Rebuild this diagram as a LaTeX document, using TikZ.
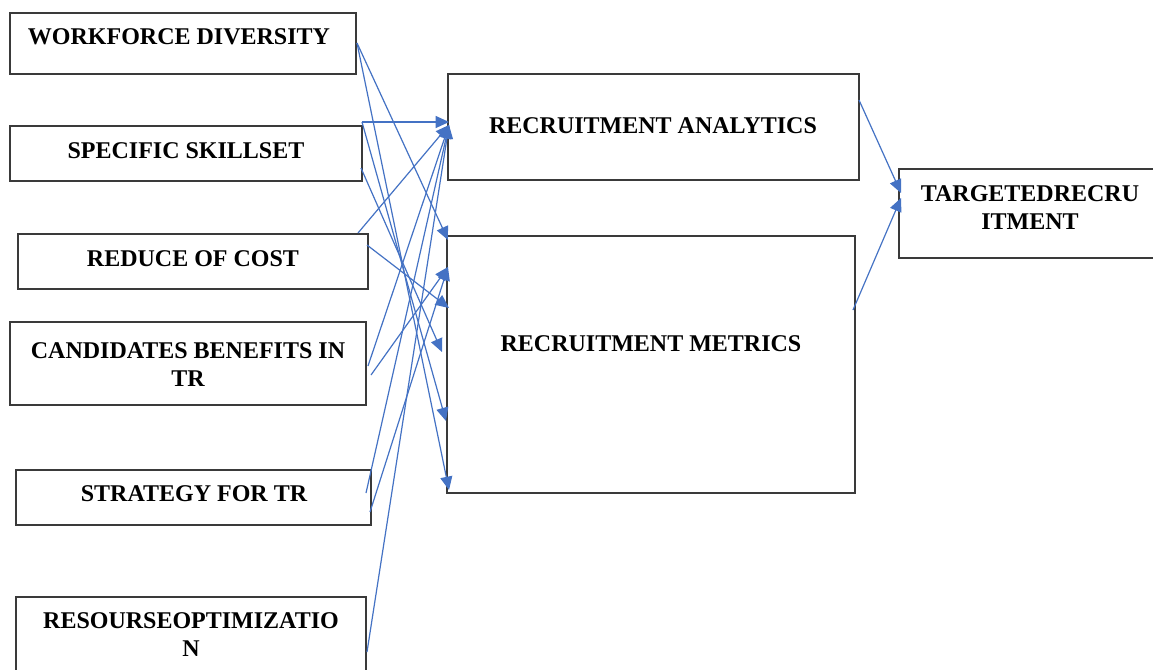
\documentclass[tikz,border=0pt]{standalone}
\usepackage{fontspec}
\setmainfont{Liberation Serif}
\usetikzlibrary{fit,arrows.meta}
\definecolor{lineblue}{HTML}{4472C4}
\definecolor{boxgray}{HTML}{3A3A3A}
\tikzset{
  box/.style={draw=boxgray, line width=1.1pt, inner sep=0pt, rectangle},
  lbl/.style={font=\fontsize{18}{21}\selectfont\bfseries, align=center, text=black, inner sep=0pt},
  conn/.style={draw=lineblue, line width=0.9pt, -{Triangle[length=10pt,width=9pt]}},
  plain/.style={draw=lineblue, line width=0.9pt}
}
\begin{document}
\begin{tikzpicture}[x=0.75pt,y=-0.75pt]
\useasboundingbox (0,0) rectangle (1153,669);
\fill[white] (0,0) rectangle (1153,669);
\clip (0,0) rectangle (1153,669);
% boxes
\node[box, fit={(10,13) (356,74)}] (wd) {};
\node[box, fit={(10,126) (362,181)}] (ss) {};
\node[box, fit={(18,234) (368,289)}] (rc) {};
\node[box, fit={(10,322) (366,405)}] (cb) {};
\node[box, fit={(16,470) (371,525)}] (st) {};
\node[box, fit={(16,597) (366,690)}] (ro) {};
\node[box, fit={(448,74) (859,180)}] (ra) {};
\node[box, fit={(447,236) (855,493)}] (rm) {};
\node[box, fit={(899,169) (1160,258)}] (tr) {};
% labels
\node[lbl] (twd) at (179,37) {WORKFORCE DIVERSITY};
\node[lbl] (tss) at (186,151) {SPECIFIC SKILLSET};
\node[lbl] (trc) at (193,259) {REDUCE OF COST};
\node[lbl] (tcb) at (188,365) {CANDIDATES BENEFITS IN\\TR};
\node[lbl] (tst) at (194,494) {STRATEGY FOR TR};
\node[lbl] (tro) at (191,635) {RESOURSEOPTIMIZATIO\\N};
\node[lbl] (tra) at (653,126) {RECRUITMENT ANALYTICS};
\node[lbl] (trm) at (651,344) {RECRUITMENT METRICS};
\node[lbl] (ttr) at (1030,208) {TARGETEDRECRU\\ITMENT};
% connector end points
\coordinate (wdA) at (357,43);
\coordinate (ssA) at (362,122);
\coordinate (ssB) at (361,168);
\coordinate (rcA) at (358,233);
\coordinate (rcB) at (367,245);
\coordinate (cbA) at (368,366);
\coordinate (cbB) at (371,375);
\coordinate (stA) at (366,493);
\coordinate (stB) at (370,512);
\coordinate (roA) at (367,652);
\coordinate (raIn) at (449,125);
\coordinate (raIn2) at (449,122);
\coordinate (m1) at (448,240);
\coordinate (m2) at (448,267);
\coordinate (m3) at (449,308);
\coordinate (m4) at (442,352);
\coordinate (m5) at (446,421);
\coordinate (m6) at (449,490);
\coordinate (raOut) at (859,100);
\coordinate (rmOut) at (853,310);
\coordinate (trIn) at (901,193);
\coordinate (trIn2) at (901,198);
% connectors to analytics
\draw[conn] (ssA) -- (raIn2);
\draw[conn] (rcA) -- (raIn);
\draw[conn] (cbA) -- (raIn);
\draw[conn] (stA) -- (raIn);
\draw[conn] (roA) -- (raIn);
% connectors to metrics
\draw[conn] (wdA) -- (m1);
\draw[conn] (wdA) -- (m6);
\draw[conn] (ssA) -- (m5);
\draw[conn] (ssB) -- (m4);
\draw[conn] (rcB) -- (m3);
\draw[conn] (cbB) -- (m2);
\draw[conn] (stB) -- (m2);
% to targeted recruitment
\draw[conn] (raOut) -- (trIn);
\draw[conn] (rmOut) -- (trIn2);
\end{tikzpicture}
\end{document}
